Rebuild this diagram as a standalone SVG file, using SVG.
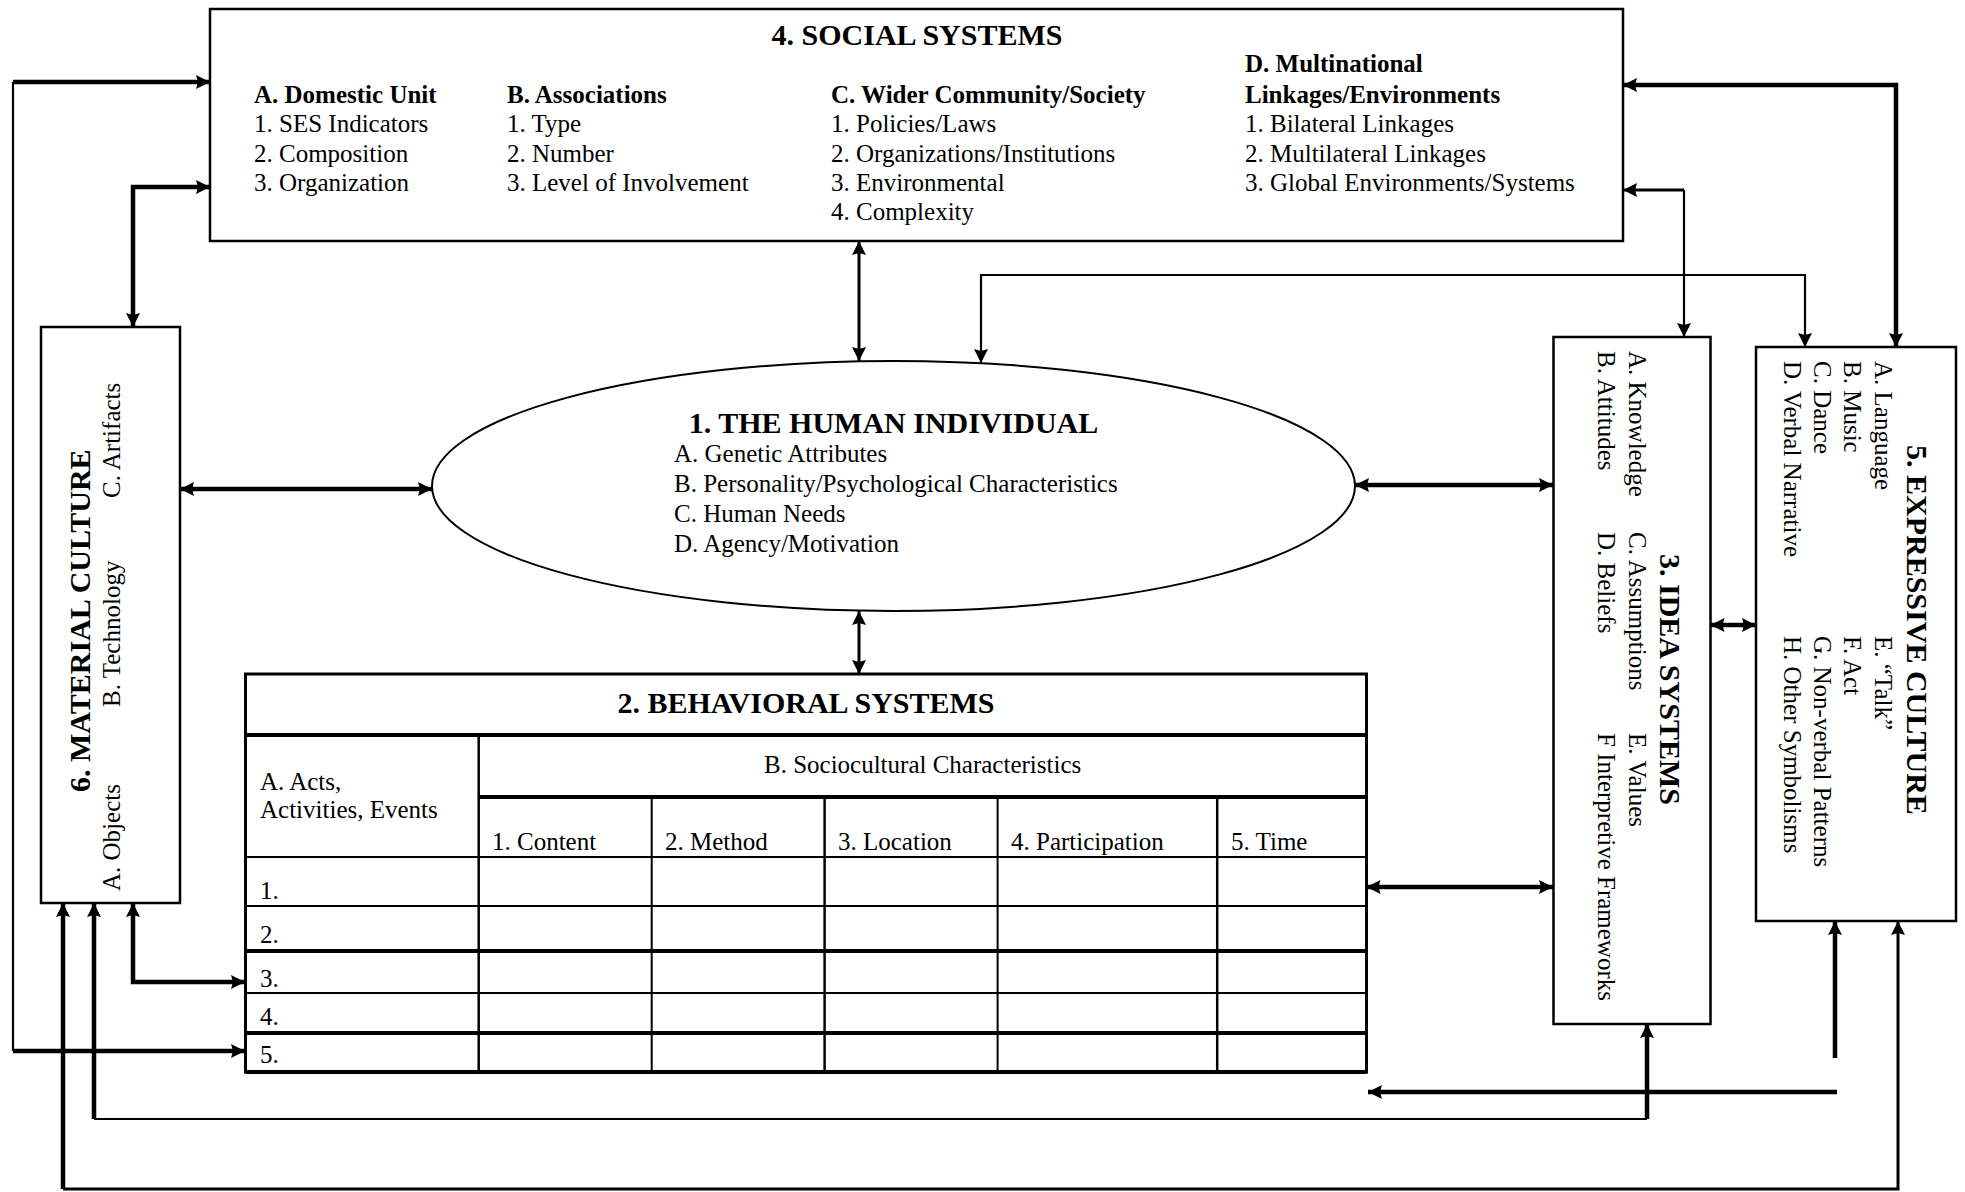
<svg xmlns="http://www.w3.org/2000/svg" width="1965" height="1192" viewBox="0 0 1965 1192">
<style>
text{font-family:"Liberation Serif","Times New Roman",serif;fill:#000}
.b{font-size:25px}
.hb{font-size:25px;font-weight:bold}
.t{font-size:30px;font-weight:bold}
.box{fill:#fff;stroke:#000;stroke-width:2.5}
.thick{fill:none;stroke:#000;stroke-width:4.5}
.mid{fill:none;stroke:#000;stroke-width:3}
.thin{fill:none;stroke:#000;stroke-width:2.2}
.g2{stroke:#000;stroke-width:2}
.g25{stroke:#000;stroke-width:2.5}
.g4{stroke:#000;stroke-width:4}
</style>
<defs>
<marker id="ah" viewBox="0 0 14 14" refX="14" refY="7" markerWidth="14" markerHeight="14" markerUnits="userSpaceOnUse" orient="auto-start-reverse">
<path d="M0,0 L14,7 L0,14 L2,7 z" fill="#000"/>
</marker>
</defs>
<rect width="1965" height="1192" fill="#fff"/>

<g id="social-systems">
<rect class="box" x="210" y="9" width="1413" height="232"/>
<text class="t" x="917" y="45" text-anchor="middle">4. SOCIAL SYSTEMS</text>
<text class="hb" x="254" y="103">A. Domestic Unit</text>
<text class="b" x="254" y="132">1. SES Indicators</text>
<text class="b" x="254" y="162">2. Composition</text>
<text class="b" x="254" y="191">3. Organization</text>
<text class="hb" x="507" y="103">B. Associations</text>
<text class="b" x="507" y="132">1. Type</text>
<text class="b" x="507" y="162">2. Number</text>
<text class="b" x="507" y="191">3. Level of Involvement</text>
<text class="hb" x="831" y="103">C. Wider Community/Society</text>
<text class="b" x="831" y="132">1. Policies/Laws</text>
<text class="b" x="831" y="162">2. Organizations/Institutions</text>
<text class="b" x="831" y="191">3. Environmental</text>
<text class="b" x="831" y="220">4. Complexity</text>
<text class="hb" x="1245" y="72">D. Multinational</text>
<text class="hb" x="1245" y="103">Linkages/Environments</text>
<text class="b" x="1245" y="132">1. Bilateral Linkages</text>
<text class="b" x="1245" y="162">2. Multilateral Linkages</text>
<text class="b" x="1245" y="191">3. Global Environments/Systems</text>
</g>

<g id="human-individual">
<ellipse cx="893.5" cy="486" rx="461.5" ry="125" fill="#fff" stroke="#000" stroke-width="2"/>
<text class="t" x="893.5" y="433" text-anchor="middle">1. THE HUMAN INDIVIDUAL</text>
<text class="b" x="674" y="462">A. Genetic Attributes</text>
<text class="b" x="674" y="492">B. Personality/Psychological Characteristics</text>
<text class="b" x="674" y="522">C. Human Needs</text>
<text class="b" x="674" y="552">D. Agency/Motivation</text>
</g>

<g id="material-culture">
<rect class="box" x="41" y="327" width="139" height="576"/>
<text class="t" transform="translate(90,792) rotate(-90)">6. MATERIAL CULTURE</text>
<text class="b" transform="translate(120,891) rotate(-90)">A. Objects</text>
<text class="b" transform="translate(120,707) rotate(-90)">B. Technology</text>
<text class="b" transform="translate(120,498) rotate(-90)">C. Artifacts</text>
</g>

<g id="idea-systems">
<rect class="box" x="1553.5" y="337" width="157" height="687"/>
<text class="t" transform="translate(1660,554) rotate(90)">3. IDEA SYSTEMS</text>
<text class="b" transform="translate(1629,351) rotate(90)">A. Knowledge</text>
<text class="b" transform="translate(1629,532) rotate(90)">C. Assumptions</text>
<text class="b" transform="translate(1629,733) rotate(90)">E. Values</text>
<text class="b" transform="translate(1598,351) rotate(90)">B. Attitudes</text>
<text class="b" transform="translate(1598,532) rotate(90)">D. Beliefs</text>
<text class="b" transform="translate(1598,733) rotate(90)">F Interpretive Frameworks</text>
</g>

<g id="expressive-culture">
<rect class="box" x="1756" y="347" width="200" height="574"/>
<text class="t" transform="translate(1907,445) rotate(90)">5. EXPRESSIVE CULTURE</text>
<text class="b" transform="translate(1875,361) rotate(90)">A. Language</text>
<text class="b" transform="translate(1844,361) rotate(90)">B. Music</text>
<text class="b" transform="translate(1814,361) rotate(90)">C. Dance</text>
<text class="b" transform="translate(1784,361) rotate(90)">D. Verbal Narrative</text>
<text class="b" transform="translate(1875,636) rotate(90)">E. “Talk”</text>
<text class="b" transform="translate(1844,636) rotate(90)">F. Act</text>
<text class="b" transform="translate(1814,636) rotate(90)">G. Non-verbal Patterns</text>
<text class="b" transform="translate(1784,636) rotate(90)">H. Other Symbolisms</text>
</g>

<g id="behavioral-systems">
<rect x="245.5" y="674" width="1121" height="398" fill="#fff" stroke="#000" stroke-width="3"/>
<line class="g4" x1="245.5" y1="735" x2="1366.5" y2="735"/>
<line class="g4" x1="478.7" y1="797" x2="1366.5" y2="797"/>
<line class="g2" x1="245.5" y1="857" x2="1366.5" y2="857"/>
<line class="g2" x1="245.5" y1="906" x2="1366.5" y2="906"/>
<line class="g4" x1="245.5" y1="951" x2="1366.5" y2="951"/>
<line class="g2" x1="245.5" y1="993" x2="1366.5" y2="993"/>
<line class="g4" x1="245.5" y1="1033" x2="1366.5" y2="1033"/>
<line class="g4" x1="245.5" y1="1072" x2="1366.5" y2="1072"/>
<line class="g25" x1="478.7" y1="735" x2="478.7" y2="1072"/>
<line class="g2" x1="651.7" y1="797" x2="651.7" y2="1072"/>
<line class="g25" x1="824.6" y1="797" x2="824.6" y2="1072"/>
<line class="g2" x1="997.6" y1="797" x2="997.6" y2="1072"/>
<line class="g25" x1="1217.2" y1="797" x2="1217.2" y2="1072"/>
<text class="t" x="806" y="713" text-anchor="middle">2. BEHAVIORAL SYSTEMS</text>
<text class="b" x="922.6" y="773" text-anchor="middle">B. Sociocultural Characteristics</text>
<text class="b" x="260" y="790">A. Acts,</text>
<text class="b" x="260" y="818">Activities, Events</text>
<text class="b" x="492" y="850">1. Content</text>
<text class="b" x="665" y="850">2. Method</text>
<text class="b" x="838" y="850">3. Location</text>
<text class="b" x="1011" y="850">4. Participation</text>
<text class="b" x="1231" y="850">5. Time</text>
<text class="b" x="260" y="899">1.</text>
<text class="b" x="260" y="943">2.</text>
<text class="b" x="260" y="987">3.</text>
<text class="b" x="260" y="1025">4.</text>
<text class="b" x="260" y="1063">5.</text>
</g>

<g id="connectors">
<path class="thin" d="M13,82 V1051" stroke-width="2.6"/>
<path class="thick" d="M13,82 H210" marker-end="url(#ah)"/>
<path class="thick" d="M13,1051 H245" marker-end="url(#ah)"/>
<path class="thick" d="M210,187 H133 V327" marker-start="url(#ah)" marker-end="url(#ah)"/>
<path class="thick" d="M180,489 H432" marker-start="url(#ah)" marker-end="url(#ah)"/>
<path class="mid" d="M859,241 V361" stroke-width="3.5" marker-start="url(#ah)" marker-end="url(#ah)"/>
<path class="thin" d="M981,363 V275 H1805 V347" marker-start="url(#ah)" marker-end="url(#ah)"/>
<path class="mid" d="M1623,190 H1684"  stroke-width="4" marker-start="url(#ah)"/>
<path class="thin" d="M1684,190 V337" stroke-width="2.4" marker-end="url(#ah)"/>
<path class="thick" d="M1623,85 H1896 V347" marker-start="url(#ah)" marker-end="url(#ah)"/>
<path class="thick" d="M1355,485 H1553" marker-start="url(#ah)" marker-end="url(#ah)"/>
<path class="thick" d="M1710.5,625 H1756" marker-start="url(#ah)" marker-end="url(#ah)"/>
<path class="thick" d="M1366.5,887 H1553" marker-start="url(#ah)" marker-end="url(#ah)"/>
<path class="mid" d="M859,611 V674" stroke-width="2.6" marker-start="url(#ah)" marker-end="url(#ah)"/>
<path class="thick" d="M133,903 V982 H245" marker-start="url(#ah)" marker-end="url(#ah)"/>
<path class="thick" d="M94,903 V1119" marker-start="url(#ah)"/>
<path class="thin" d="M94,1119 H1647"/>
<path class="thick" d="M1647,1119 V1024" marker-end="url(#ah)"/>
<path class="thick" d="M63,903 V1189" marker-start="url(#ah)"/>
<path class="mid" d="M63,1189 H1898 V921" stroke-width="2.6" marker-end="url(#ah)"/>
<path class="thick" d="M1835,1058 V921" marker-end="url(#ah)"/>
<path class="thick" d="M1837,1092 H1368" marker-end="url(#ah)"/>
</g>
</svg>
